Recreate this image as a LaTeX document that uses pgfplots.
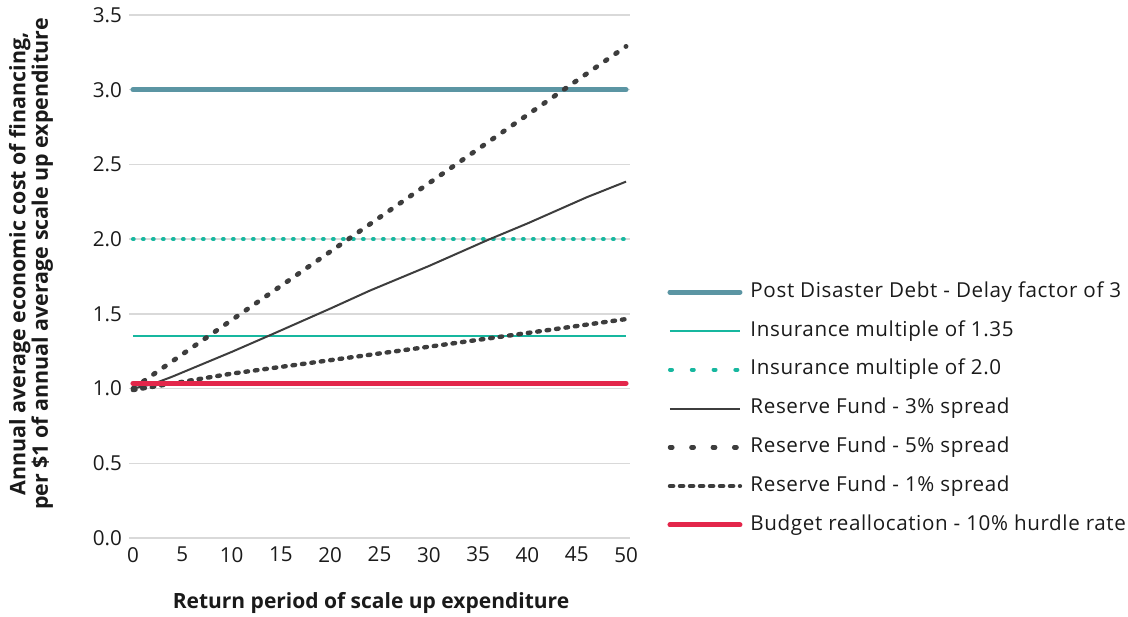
\documentclass[border=0pt]{standalone}
\usepackage{pgfplots}
\pgfplotsset{compat=1.18}
\usepackage{fontspec}
\setmainfont{Open Sans}
\definecolor{postcol}{HTML}{5B95A3}
\definecolor{tealcol}{HTML}{17B79F}
\definecolor{graycol}{HTML}{3D3D3D}
\definecolor{redcol}{HTML}{E3264A}
\definecolor{gridcol}{HTML}{D9D9D9}
\definecolor{txtcol}{HTML}{1A1A1A}
\begin{document}
\begin{tikzpicture}
\path[use as bounding box] (0pt,0pt) rectangle (564pt,308pt);
\begin{axis}[
  at={(64.5pt,39pt)}, anchor=south west,
  scale only axis, width=250.5pt, height=261.5pt,
  xmin=-0.4, xmax=50.4, ymin=0, ymax=3.5,
  xtick={0,5,...,50}, ytick={0,0.5,...,3.5},
  ymajorgrids, grid style={gridcol, line width=0.75pt},
  axis line style={draw=none}, major tick length=0pt,
  tick label style={font=\fontsize{10.3}{12}\selectfont, text=txtcol},
  /pgf/number format/assume math mode=true,
  yticklabel style={/pgf/number format/.cd, fixed, fixed zerofill, precision=1},
  xticklabel style={yshift=-1pt},
  clip=false,
  legend style={at={(rel axis cs:1.062,0.2476)}, anchor=west, draw=none, fill=none,
    font=\fontsize{10.3}{12}\selectfont\addfontfeature{LetterSpace=3}, text=txtcol,
    nodes={inner sep=0pt, text height=7.2pt, text depth=2pt},
    row sep=10.2pt, column sep=4pt},
  legend cell align=left,
  legend image code/.code={\draw[#1] (0pt,0pt) -- (35pt,0pt);},
]
% Post disaster debt
\addplot[postcol, line width=2.5pt, line cap=round, forget plot] coordinates {(0,3.0) (50,3.0)};
% Insurance 1.35
\addplot[tealcol, line width=1pt, forget plot] coordinates {(0,1.355) (50,1.355)};
% Insurance 2.0
\addplot[tealcol, line width=2pt, line cap=round, dash pattern=on 0.4pt off 4.6pt, forget plot] coordinates {(0,2.0) (50,2.0)};
% Reserve 3%
\addplot[graycol, line width=1pt, forget plot] coordinates {(0,1.0) (2,1.03) (4,1.08) (8,1.19) (10,1.245) (14,1.36) (20,1.535) (24,1.655) (30,1.82) (36,1.995) (40,2.105) (46,2.28) (50,2.385)};
% Reserve 5%
\addplot[graycol, line width=2.4pt, line cap=round, dash pattern=on 1pt off 5.25pt, forget plot] coordinates {(0,1.0) (10,1.458) (20,1.916) (30,2.374) (40,2.832) (50,3.29)};
% Reserve 1%
\addplot[graycol, line width=2.2pt, line cap=round, dash pattern=on 1.3pt off 3.45pt, forget plot] coordinates {(0,0.99) (10,1.10) (20,1.19) (30,1.28) (40,1.372) (50,1.465)};
% Budget reallocation
\addplot[redcol, line width=2.5pt, line cap=round, forget plot] coordinates {(0,1.035) (50,1.035)};

\addlegendimage{postcol, line width=2.5pt, line cap=round}
\addlegendentry{Post Disaster Debt - Delay factor of 3}
\addlegendimage{tealcol, line width=1pt}
\addlegendentry{Insurance multiple of 1.35}
\addlegendimage{tealcol, line width=2pt, line cap=round, dash pattern=on 1pt off 9.9pt}
\addlegendentry{Insurance multiple of 2.0}
\addlegendimage{graycol, line width=1pt}
\addlegendentry{Reserve Fund - 3\% spread}
\addlegendimage{graycol, line width=2.2pt, line cap=round, dash pattern=on 1.2pt off 9.5pt}
\addlegendentry{Reserve Fund - 5\% spread}
\addlegendimage{graycol, line width=2.2pt, line cap=round, dash pattern=on 1.6pt off 3.4pt}
\addlegendentry{Reserve Fund - 1\% spread}
\addlegendimage{redcol, line width=2.5pt, line cap=round}
\addlegendentry{Budget reallocation - 10\% hurdle rate}
\end{axis}
\node[font=\bfseries\fontsize{10.5}{12}\selectfont, text=txtcol] at (185.5pt,6.5pt) {Return period of scale up expenditure};
\node[font=\bfseries\fontsize{10.7}{11.2}\selectfont, text=txtcol, rotate=90, align=center] at (15.5pt,176pt) {Annual average economic cost of financing,\\per \$1 of annual average scale up expenditure};
\end{tikzpicture}
\end{document}
